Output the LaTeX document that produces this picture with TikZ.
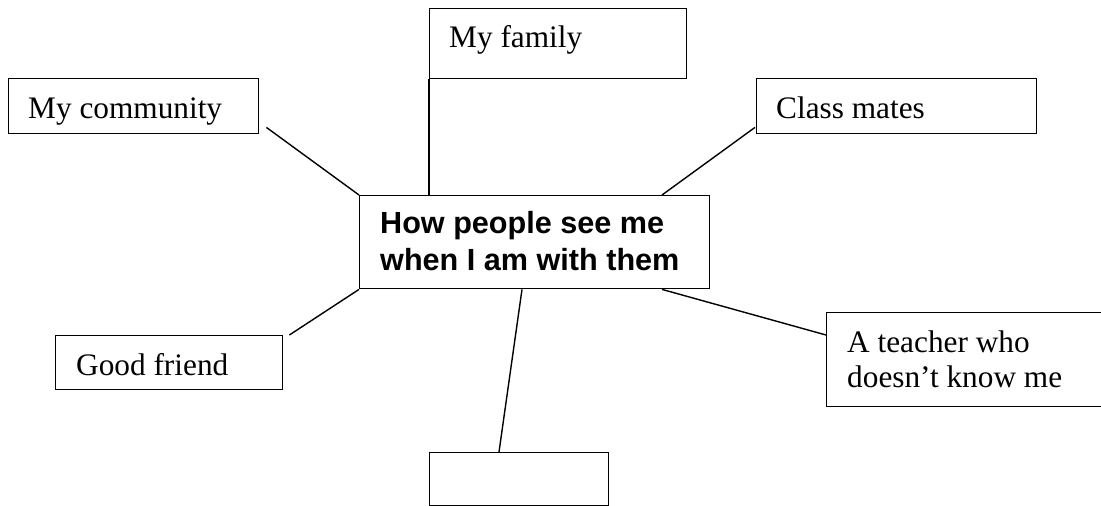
\documentclass[tikz,border=0pt]{standalone}
\usepackage{fontspec}
\setmainfont{Liberation Serif}
\newfontfamily\arialfont{Liberation Sans}
\usetikzlibrary{calc}
\tikzset{
  box/.style={draw, line width=1.4pt, inner sep=0pt, anchor=north west},
  lbl/.style={anchor=base west, inner sep=0pt, font=\fontsize{31.3}{35}\selectfont},
  clbl/.style={anchor=base west, inner sep=0pt, font=\arialfont\bfseries\fontsize{30.6}{37}\selectfont},
  conn/.style={line width=1.4pt}
}
\begin{document}
\begin{tikzpicture}[x=1pt,y=-1pt]
\useasboundingbox (0,0) rectangle (1101,506);
\clip (0,0) rectangle (1101,506);
% boxes
\node[box, minimum width=257pt, minimum height=70pt] (family) at (429,8) {};
\node[box, minimum width=250pt, minimum height=55pt] (community) at (8,78) {};
\node[box, minimum width=280pt, minimum height=55pt] (classmates) at (756,78) {};
\node[box, minimum width=350pt, minimum height=93pt] (center) at (359,195) {};
\node[box, minimum width=227pt, minimum height=54pt] (friend) at (55,335) {};
\node[box, minimum width=285pt, minimum height=94pt] (teacher) at (826,312) {};
\node[box, minimum width=179pt, minimum height=53pt] (empty) at (429,452) {};
% texts
\node[lbl] (tfamily) at (449,47) {My family};
\node[lbl] (tcommunity) at (28,118) {My community};
\node[lbl] (tclassmates) at (776,118) {Class mates};
\node[lbl] (tfriend) at (76,375) {Good friend};
\node[lbl] (tteacher1) at (847,352) {A teacher who};
\node[lbl] (tteacher2) at (847,387) {doesn’t know me};
\node[clbl] (tcenter1) at (380,233) {How people see me};
\node[clbl] (tcenter2) at (380,270) {when I am with them};
% connectors
\draw[conn] (family.south west) -- (family.south west |- center.north);
\draw[conn] ($(community.south east)+(7,-7)$) -- (center.north west);
\draw[conn] ($(classmates.south west)+(-1,-7)$) -- ($(center.north west)+(303,0)$);
\draw[conn] ($(friend.north east)+(6,0)$) -- (center.south west);
\draw[conn] ($(center.south west)+(303,0)$) -- ($(teacher.north west)+(0,23)$);
\draw[conn] ($(center.south west)+(163,0)$) -- ($(empty.north west)+(70,0)$);
\end{tikzpicture}
\end{document}
